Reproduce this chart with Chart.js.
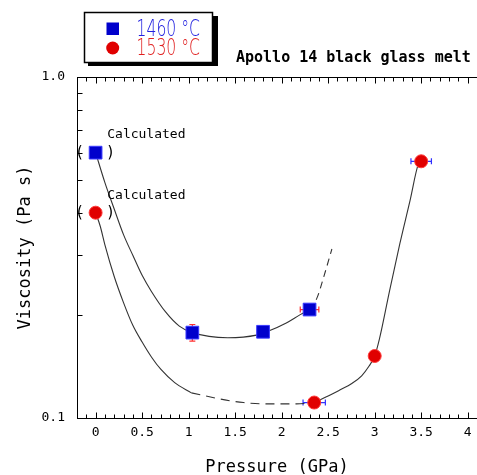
<!DOCTYPE html>
<html>
<head>
<meta charset="utf-8">
<script src="https://cdn.jsdelivr.net/npm/chart.js@4/dist/chart.umd.min.js"></script>
<style>
    html, body { margin: 0; padding: 0; background: #fff; }
    #wrap { width: 477px; height: 475px; }
</style>
</head>
<body>
<div id="wrap"><canvas id="viscosidadeChart" width="477" height="475"></canvas></div>
<script>
// medidas (pressao em GPa, viscosidade em Pa s)
const pressao1460 = [0, 1.04, 1.80, 2.30];
const visc1460 = [0.60, 0.178, 0.179, 0.208];
const errX1460 = [0, 0.03, 0, 0.10];
const errY1460 = [0, 0.010, 0, 0];

const pressao1530 = [0, 2.35, 3.0, 3.5];
const visc1530 = [0.40, 0.111, 0.152, 0.566];
const errX1530 = [0, 0.12, 0.05, 0.11];
const errY1530 = [0, 0, 0.004, 0];

// curvas
const curva1460P = [0, 0.1, 0.2, 0.3, 0.4, 0.5, 0.6, 0.75, 0.9, 1.04, 1.42, 1.73, 1.84, 2.05, 2.20, 2.30];
const curva1460V = [0.60, 0.49, 0.41, 0.345, 0.30, 0.262, 0.235, 0.205, 0.186, 0.178, 0.172, 0.175, 0.179, 0.190, 0.201, 0.208];
const extra1460P = [2.30, 2.38, 2.45, 2.54];
const extra1460V = [0.208, 0.225, 0.258, 0.313];

const curva1530aP = [0, 0.05, 0.1, 0.2, 0.3, 0.4, 0.5, 0.6, 0.7, 0.85, 1.03];
const curva1530aV = [0.40, 0.365, 0.322, 0.26, 0.218, 0.187, 0.167, 0.151, 0.139, 0.127, 0.1185];
const curva1530bP = [1.03, 1.39, 1.59, 1.84, 2.16, 2.35];
const curva1530bV = [0.1185, 0.113, 0.111, 0.110, 0.110, 0.111];
const curva1530cP = [2.35, 2.5, 2.63, 2.75, 2.86, 2.94, 3.0, 3.05, 3.16, 3.27, 3.38, 3.47, 3.5];
const curva1530cV = [0.111, 0.116, 0.121, 0.126, 0.133, 0.142, 0.152, 0.170, 0.236, 0.324, 0.434, 0.556, 0.566];

const xTickValues = [0, 0.5, 1, 1.5, 2, 2.5, 3, 3.5, 4];
const xTickLabels = ['0', '0.5', '1', '1.5', '2', '2.5', '3', '3.5', '4'];
const yTickValues = [0.1, 1.0];
const yTickLabels = ['0.1', '1.0'];

const legendLabels = ['1460 °C', '1530 °C'];
const tituloGrafico = 'Apollo 14 black glass melt';
const textoCalculado = 'Calculated';

const azul = '#0000cc';
const vermelho = '#e00000';
const mono = "'DejaVu Sans Mono', monospace";

function pontos(xs, ys) {
    return xs.map(function (v, i) { return { x: v, y: ys[i] }; });
}

function curva(label, xs, ys, dash) {
    return {
        label: label,
        data: pontos(xs, ys),
        showLine: true,
        borderColor: '#333',
        borderWidth: 1.1,
        borderDash: dash || [],
        pointRadius: 0,
        cubicInterpolationMode: 'monotone',
        fill: false
    };
}

// barras de erro, desenhadas por baixo dos simbolos
const barrasErro = {
    id: 'barrasErro',
    beforeDatasetsDraw: function (chart) {
        const ctx = chart.ctx;
        const x = chart.scales.x, y = chart.scales.y;
        const grupos = [
            { p: pressao1460, v: visc1460, ex: errX1460, ey: errY1460, cor: '#ff3030' },
            { p: pressao1530, v: visc1530, ex: errX1530, ey: errY1530, cor: '#3030ff' }
        ];
        ctx.save();
        ctx.lineWidth = 1.2;
        grupos.forEach(function (g) {
            ctx.strokeStyle = g.cor;
            g.p.forEach(function (p, i) {
                const cx = x.getPixelForValue(p), cy = y.getPixelForValue(g.v[i]);
                if (g.ex[i] > 0) {
                    const x0 = x.getPixelForValue(p - g.ex[i]), x1 = x.getPixelForValue(p + g.ex[i]);
                    ctx.beginPath();
                    ctx.moveTo(x0, cy); ctx.lineTo(x1, cy);
                    ctx.moveTo(x0, cy - 3); ctx.lineTo(x0, cy + 3);
                    ctx.moveTo(x1, cy - 3); ctx.lineTo(x1, cy + 3);
                    ctx.stroke();
                }
                if (g.ey[i] > 0) {
                    const y0 = y.getPixelForValue(g.v[i] + g.ey[i]), y1 = y.getPixelForValue(g.v[i] - g.ey[i]);
                    ctx.beginPath();
                    ctx.moveTo(cx, y0); ctx.lineTo(cx, y1);
                    ctx.moveTo(cx - 3, y0); ctx.lineTo(cx + 3, y0);
                    ctx.moveTo(cx - 3, y1); ctx.lineTo(cx + 3, y1);
                    ctx.stroke();
                }
            });
        });
        ctx.restore();
    }
};

// moldura, marcas para dentro, legenda e textos
const decoracao = {
    id: 'decoracao',
    afterDraw: function (chart) {
        const ctx = chart.ctx;
        const a = chart.chartArea;
        const x = chart.scales.x, y = chart.scales.y;
        const top = Math.round(a.top) + 0.5, bottom = Math.round(a.bottom) + 0.5, left = Math.round(a.left) + 0.5;

        ctx.save();
        ctx.strokeStyle = '#000';
        ctx.lineWidth = 1;
        ctx.beginPath();
        ctx.moveTo(left, top); ctx.lineTo(a.right, top);
        for (let i = -1; i <= 41; i++) {
            const px = Math.round(x.getPixelForValue(i / 10)) + 0.5;
            if (px <= left + 1 || px > a.right) continue;
            const len = (i % 5 === 0) ? 6 : 4;
            ctx.moveTo(px, top); ctx.lineTo(px, top + len);
            ctx.moveTo(px, bottom); ctx.lineTo(px, bottom - len);
        }
        for (let k = 2; k <= 9; k++) {
            const py = Math.round(y.getPixelForValue(k / 10)) + 0.5;
            ctx.moveTo(left, py); ctx.lineTo(left + 5, py);
        }
        ctx.stroke();

        // legenda
        ctx.fillStyle = '#000';
        ctx.fillRect(88, 16, 130, 50);
        ctx.fillStyle = '#fff';
        ctx.fillRect(84, 12, 129, 51);
        ctx.strokeStyle = '#000';
        ctx.lineWidth = 1.5;
        ctx.strokeRect(84.5, 12.5, 128, 50);
        ctx.fillStyle = azul;
        ctx.fillRect(106.5, 22.5, 12.5, 12.5);
        ctx.fillStyle = vermelho;
        ctx.beginPath();
        ctx.arc(112.7, 48, 6.5, 0, Math.PI * 2);
        ctx.fill();
        const coresTexto = ['#2020e0', '#e02020'];
        ctx.font = "200 23px 'DejaVu Sans'";
        ctx.textBaseline = 'alphabetic';
        ctx.textAlign = 'left';
        legendLabels.forEach(function (t, i) {
            ctx.save();
            ctx.translate(136.5, 35.5 + i * 19);
            ctx.scale(0.68, 1);
            ctx.fillStyle = coresTexto[i];
            ctx.fillText(t, 0, 0);
            ctx.restore();
        });

        // titulo
        ctx.fillStyle = '#000';
        ctx.font = 'bold 15px ' + mono;
        ctx.fillText(tituloGrafico, 236, 62);

        // "Calculated" e parenteses
        ctx.font = '13px ' + mono;
        const x0 = x.getPixelForValue(0);
        ctx.fillText(textoCalculado, x.getPixelForValue(0.125), y.getPixelForValue(0.683) + 5);
        ctx.fillText(textoCalculado, x.getPixelForValue(0.125), y.getPixelForValue(0.455) + 5);
        ctx.font = '15px ' + mono;
        ctx.textAlign = 'center';
        ctx.textBaseline = 'middle';
        [visc1460[0], visc1530[0]].forEach(function (v) {
            const py = y.getPixelForValue(v);
            ctx.fillText('(', x0 - 16, py);
            ctx.fillText(')', x0 + 15, py);
        });
        ctx.restore();
    }
};

function criarGrafico() {
    const ctx = document.getElementById('viscosidadeChart').getContext('2d');
    new Chart(ctx, {
        type: 'scatter',
        data: {
            datasets: [
                {
                    label: legendLabels[1],
                    data: pontos(pressao1530, visc1530),
                    pointStyle: 'circle',
                    pointRadius: 6.5,
                    backgroundColor: vermelho,
                    borderColor: '#ff3a3a',
                    borderWidth: 1
                },
                {
                    label: legendLabels[0],
                    data: pontos(pressao1460, visc1460),
                    pointStyle: 'rect',
                    pointRadius: 9,
                    backgroundColor: azul,
                    borderColor: '#3a3aff',
                    borderWidth: 1
                },
                curva('1460 fit', curva1460P, curva1460V),
                curva('1460 ext', extra1460P, extra1460V, [7, 5]),
                curva('1530 fit a', curva1530aP, curva1530aV),
                curva('1530 fit b', curva1530bP, curva1530bV, [9, 6]),
                curva('1530 fit c', curva1530cP, curva1530cV)
            ]
        },
        options: {
            responsive: false,
            animation: false,
            layout: { autoPadding: false, padding: { top: 77, right: 0, left: 0, bottom: 0 } },
            plugins: {
                legend: { display: false },
                tooltip: { enabled: false }
            },
            scales: {
                x: {
                    type: 'linear',
                    min: -0.2,
                    max: 4.1,
                    afterFit: function (scale) {
                        scale.height = 57;
                        scale.paddingLeft = 0;
                        scale.paddingRight = 0;
                    },
                    afterBuildTicks: function (scale) {
                        scale.ticks = xTickValues.map(function (v) { return { value: v }; });
                    },
                    grid: { display: false, drawTicks: false },
                    border: { display: true, color: '#000', width: 1 },
                    ticks: {
                        autoSkip: false,
                        maxRotation: 0,
                        padding: 7,
                        color: '#000',
                        font: { family: mono, size: 13 },
                        callback: function (v) {
                            const i = xTickValues.indexOf(v);
                            return i >= 0 ? xTickLabels[i] : '';
                        }
                    },
                    title: {
                        display: true,
                        text: 'Pressure (GPa)',
                        color: '#000',
                        font: { family: mono, size: 17 },
                        padding: { top: 0, bottom: -3 }
                    }
                },
                y: {
                    type: 'logarithmic',
                    min: 0.1,
                    max: 1.0,
                    afterFit: function (scale) {
                        scale.width = 77;
                        scale.paddingTop = 0;
                        scale.paddingBottom = 0;
                    },
                    afterBuildTicks: function (scale) {
                        scale.ticks = yTickValues.map(function (v) { return { value: v }; });
                    },
                    grid: { display: false, drawTicks: false },
                    border: { display: true, color: '#000', width: 1 },
                    ticks: {
                        autoSkip: false,
                        padding: 12,
                        color: '#000',
                        font: { family: mono, size: 13 },
                        callback: function (v) {
                            const i = yTickValues.indexOf(v);
                            return i >= 0 ? yTickLabels[i] : '';
                        }
                    },
                    title: {
                        display: true,
                        text: 'Viscosity (Pa s)',
                        color: '#000',
                        font: { family: mono, size: 17 },
                        padding: { top: 15, bottom: 0 }
                    }
                }
            }
        },
        plugins: [barrasErro, decoracao]
    });
}

criarGrafico();
</script>
</body>
</html>
